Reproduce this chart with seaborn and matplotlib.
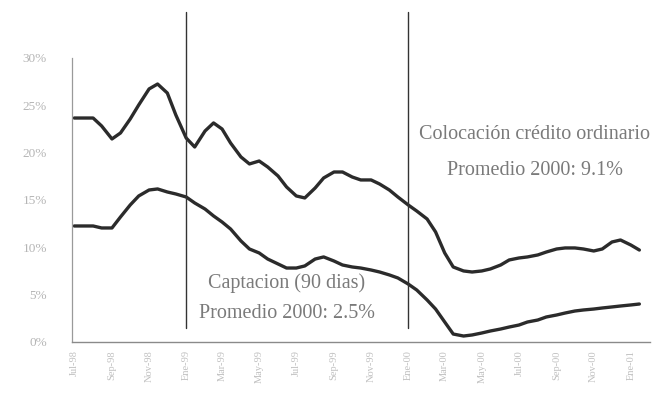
import numpy as np
import pandas as pd
import matplotlib
matplotlib.use("Agg")
import matplotlib.pyplot as plt
import matplotlib.dates as mdates
import seaborn as sns

# Semi-monthly observations, Jul-1998 to Jan-2001 (percent)
fechas = pd.date_range("1998-07-01", periods=62, freq="SMS")

colocacion = [
    23.65, 23.65, 23.65, 22.81, 21.44, 22.07, 23.55, 25.03, 26.72, 27.24,
    26.29, 23.97, 21.54, 20.59, 22.28, 23.13, 22.49, 21.01, 19.54, 18.80,
    19.11, 18.48, 17.53, 16.37, 15.42, 15.21, 16.26, 17.32, 17.95, 17.95,
    17.42, 17.11, 17.11, 16.68, 16.05, 15.31, 14.47, 13.83, 12.99, 11.62,
    9.40, 7.92, 7.50, 7.39, 7.50, 7.71, 8.13, 8.66, 8.87, 8.98,
    9.19, 9.50, 9.82, 9.93, 9.93, 9.82, 9.61, 9.82, 10.56, 10.77,
    10.24, 9.71,
]

captacion = [
    12.25, 12.25, 12.25, 12.04, 12.04, 13.20, 14.47, 15.42, 16.05, 16.16,
    15.84, 15.63, 15.31, 14.68, 14.04, 13.31, 12.67, 11.93, 10.67, 9.82,
    9.40, 8.76, 8.24, 7.81, 7.81, 8.03, 8.76, 8.98, 8.55, 8.13,
    7.92, 7.81, 7.60, 7.39, 7.08, 6.76, 6.12, 5.49, 4.44, 3.48,
    2.11, 0.84, 0.63, 0.74, 0.95, 1.16, 1.37, 1.58, 1.79, 2.11,
    2.32, 2.64, 2.85, 3.06, 3.27, 3.38, 3.48, 3.59, 3.70, 3.80,
    3.91, 4.01,
]

y_ticks = [0, 5, 10, 15, 20, 25, 30]
y_tick_labels = ["0%", "5%", "10%", "15%", "20%", "25%", "30%"]

meses = ["Ene", "Feb", "Mar", "Abr", "May", "Jun",
         "Jul", "Ago", "Sep", "Oct", "Nov", "Dic"]
x_tick_dates = pd.date_range("1998-07-01", "2001-01-01", freq="2MS")
x_tick_labels = [f"{meses[d.month - 1]}-{d.strftime('%y')}" for d in x_tick_dates]

cortes = pd.to_datetime(["1999-01-01", "2000-01-01"])

etiquetas = {
    "col_nombre": "Colocación crédito ordinario",
    "col_prom": "Promedio 2000: 9.1%",
    "cap_nombre": "Captacion (90 dias)",
    "cap_prom": "Promedio 2000: 2.5%",
}

df = pd.concat([
    pd.DataFrame({"fecha": fechas, "tasa": colocacion, "serie": "Colocación"}),
    pd.DataFrame({"fecha": fechas, "tasa": captacion, "serie": "Captación"}),
])

sns.set_style("white")
plt.rcParams["font.family"] = ["Liberation Serif", "DejaVu Serif"]

fig = plt.figure(figsize=(6.65, 3.96), dpi=100)
ax = fig.add_axes([0.108, 0.1364, 0.869, 0.837])

sns.lineplot(data=df, x="fecha", y="tasa", hue="serie",
             palette=["#2b2b2b", "#2b2b2b"], linewidth=2.4,
             legend=False, ax=ax)

ax.set_xlim(pd.Timestamp("1998-06-27"), pd.Timestamp("2001-02-01"))
ax.set_ylim(0, 35)

for c in cortes:
    ax.plot([c, c], [1.5, 34.8], color="#333333", linewidth=1.0)

ax.set_yticks(y_ticks)
ax.set_yticklabels(y_tick_labels)
ax.set_xticks(x_tick_dates)
ax.set_xticklabels(x_tick_labels, rotation=90)
ax.xaxis.set_minor_locator(mdates.MonthLocator())

ax.tick_params(axis="y", which="major", direction="out", length=4,
               width=0.8, color="#999999", labelsize=9.5, labelcolor="#b5b5b5",
               pad=14)
ax.tick_params(axis="x", which="major", direction="inout", length=6,
               width=0.8, color="#aaaaaa", labelsize=7.5, labelcolor="#c0c0c0",
               pad=3)
ax.tick_params(axis="x", which="minor", direction="inout", length=4,
               width=0.6, color="#bbbbbb")

ax.set_xlabel("")
ax.set_ylabel("")

for s in ["top", "right"]:
    ax.spines[s].set_visible(False)
ax.spines["left"].set_bounds(0, 30)
ax.spines["left"].set_color("#9a9a9a")
ax.spines["left"].set_linewidth(0.9)
ax.spines["bottom"].set_color("#8a8a8a")
ax.spines["bottom"].set_linewidth(1.0)

txt = dict(color="#7a7a7a", fontsize=14.5, ha="center", va="center")
ax.text(pd.Timestamp("2000-07-26"), 21.86, etiquetas["col_nombre"], **txt)
ax.text(pd.Timestamp("2000-07-28"), 18.16, etiquetas["col_prom"], **txt)
ax.text(pd.Timestamp("1999-06-15"), 6.23, etiquetas["cap_nombre"], **txt)
ax.text(pd.Timestamp("1999-06-15"), 3.06, etiquetas["cap_prom"], **txt)

fig.savefig("out.png", dpi=100)
